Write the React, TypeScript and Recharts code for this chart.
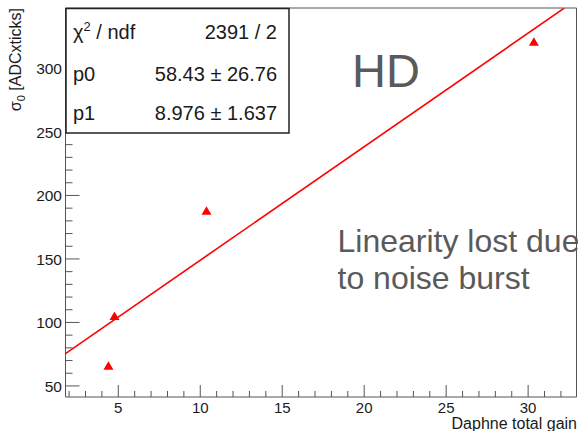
import React from 'react'
import { ComposedChart, Scatter, XAxis, YAxis, ReferenceArea } from 'recharts'

// measured points (Daphne total gain vs sigma_0)
const gains = [4.4, 4.77, 10.38, 30.35]
const sigmas = [66, 105, 188, 321]

// fitted line end points as drawn in the frame
const fitGain = [1.78, 32.2]
const fitSigma = [75.5, 347.5]

const xDomain = [1.78, 32.95]
const yDomain = [41.3, 347.6]

const xMajor = [5, 10, 15, 20, 25, 30]
const xTicks = [2, 3, 4, 5, 6, 7, 8, 9, 10, 11, 12, 13, 14, 15, 16, 17, 18, 19, 20, 21, 22, 23, 24, 25, 26, 27, 28, 29, 30, 31, 32]
const yMajor = [50, 100, 150, 200, 250, 300]
const yTicks = [50, 60, 70, 80, 90, 100, 110, 120, 130, 140, 150, 160, 170, 180, 190, 200, 210, 220, 230, 240, 250, 260, 270, 280, 290, 300, 310, 320, 330, 340]

const statLabels = ['p0', 'p1']
const statValues = ['58.43 \u00b1 26.76', '8.976 \u00b1 1.637']
const chiValue = '2391 / 2'

const points = gains.map((x, i) => ({ x, y: sigmas[i] }))
const fitLine = fitGain.map((x, i) => ({ x, y: fitSigma[i] }))

const FONT = '"Liberation Sans", Arial, Helvetica, sans-serif'
const AXIS = '#555'
const INK = '#1a1a1a'
const GREY = '#5a5a5a'

const XTick = (props: any) => {
  const { x, y, payload } = props
  const major = xMajor.includes(payload.value)
  return (
    <g>
      <line x1={x} x2={x} y1={y} y2={y - (major ? 12 : 6)} stroke={AXIS} strokeWidth={1} />
      {major && (
        <text x={x} y={y + 16} textAnchor="middle" fontSize={15} fill={INK} fontFamily={FONT}>
          {payload.value}
        </text>
      )}
    </g>
  )
}

const YTick = (props: any) => {
  const { x, y, payload } = props
  const major = yMajor.includes(payload.value)
  return (
    <g>
      <line x1={x} x2={x + (major ? 14 : 7)} y1={y} y2={y} stroke={AXIS} strokeWidth={1} />
      {major && (
        <text x={x - 3.5} y={y} dy="0.36em" textAnchor="end" fontSize={15.5} fill={INK} fontFamily={FONT}>
          {payload.value}
        </text>
      )}
    </g>
  )
}

const Triangle = (props: any) => {
  const { cx, cy } = props
  if (cx == null || cy == null) return <g />
  return <polygon points={`${cx},${cy - 4.5} ${cx + 5},${cy + 4} ${cx - 5},${cy + 4}`} fill="#ff0000" />
}

export default function App() {
  return (
    <div style={{ position: 'absolute', left: 0, top: 0, width: 578, height: 431, background: '#fff', fontFamily: FONT, overflow: 'hidden' }}>
      <ComposedChart width={578} height={431} margin={{ top: 8, right: 1.5, bottom: 0, left: 0 }}>
        <XAxis
          type="number"
          dataKey="x"
          domain={xDomain}
          ticks={xTicks}
          interval={0}
          allowDataOverflow
          height={34}
          tickSize={0}
          tickMargin={0}
          tickLine={false}
          axisLine={false}
          tick={<XTick />}
        />
        <YAxis
          type="number"
          dataKey="y"
          domain={yDomain}
          ticks={yTicks}
          interval={0}
          allowDataOverflow
          width={65.5}
          tickSize={0}
          tickMargin={0}
          tickLine={false}
          axisLine={false}
          tick={<YTick />}
        />
        <ReferenceArea x1={xDomain[0]} x2={xDomain[1]} y1={yDomain[0]} y2={yDomain[1]} fill="none" stroke={AXIS} strokeWidth={1} />
        <Scatter data={fitLine} line={{ stroke: '#ff0000', strokeWidth: 1.6 }} shape={() => <g />} isAnimationActive={false} />
        <Scatter data={points} shape={<Triangle />} isAnimationActive={false} />
      </ComposedChart>

      <svg width={578} height={431} style={{ position: 'absolute', left: 0, top: 0, pointerEvents: 'none' }} fontFamily={FONT}>
        {/* stats box */}
        <rect x={66} y={8.5} width={223} height={124.5} fill="#fff" stroke="#222" strokeWidth={1.5} />
        <text x={73} y={39} fontSize={20} fill={INK}>
          χ<tspan dy={-8} fontSize={13}>2</tspan>
          <tspan dy={8}> / ndf</tspan>
        </text>
        <text x={277} y={39} fontSize={20} fill={INK} textAnchor="end">{chiValue}</text>
        {statLabels.map((l, i) => (
          <g key={l}>
            <text x={73} y={80.5 + i * 39.5} fontSize={20} fill={INK}>{l}</text>
            <text x={277} y={80.5 + i * 39.5} fontSize={20} fill={INK} textAnchor="end">{statValues[i]}</text>
          </g>
        ))}

        {/* axis titles */}
        <text transform="translate(21, 8) rotate(-90)" textAnchor="end" fontSize={16} fill={INK}>
          σ<tspan dy={4} fontSize={11}>0</tspan>
          <tspan dy={-4}> [ADCxticks]</tspan>
        </text>
        <text x={577} y={428.5} textAnchor="end" fontSize={16} fill={INK}>Daphne total gain</text>

        {/* annotations */}
        <text x={352} y={86.5} fontSize={47} fill={GREY}>HD</text>
        <text x={337.5} y={251.5} fontSize={32} fill={GREY}>Linearity lost due</text>
        <text x={337.5} y={288.5} fontSize={32} fill={GREY}>to noise burst</text>
      </svg>
    </div>
  )
}
